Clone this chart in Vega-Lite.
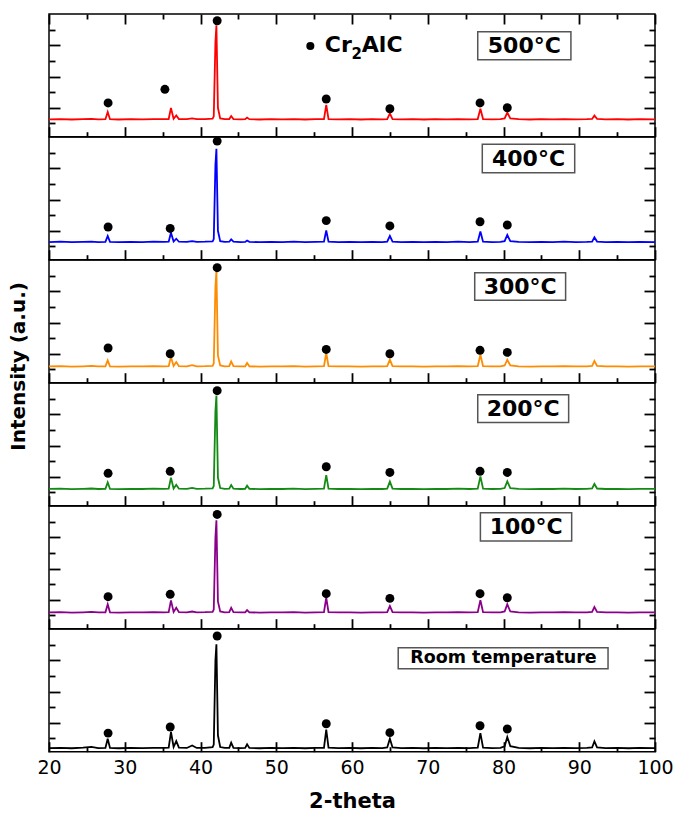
{
  "$schema": "https://vega.github.io/schema/vega-lite/v6.json",
  "background": "white",
  "padding": {"left": 9, "top": 12, "right": 5, "bottom": 5},
  "title": {"text": "Intensity (a.u.)", "orient": "left", "anchor": "middle", "font": "DejaVu Sans", "fontSize": 20, "fontWeight": "bold", "color": "black", "offset": 7, "dx": 46},
  "spacing": 0,
  "bounds": "flush",
  "datasets": {
    "xrd": [
      {"x": 20, "r": 1.26, "b": 1.28, "o": 1.19, "g": 1.22, "p": 1.19, "k": 0.38},
      {"x": 21.5, "r": 1.28, "b": 1.30, "o": 1.21, "g": 1.24, "p": 1.21, "k": 0.40},
      {"x": 23, "r": 1.25, "b": 1.27, "o": 1.18, "g": 1.21, "p": 1.18, "k": 0.37},
      {"x": 24.5, "r": 1.27, "b": 1.29, "o": 1.20, "g": 1.23, "p": 1.20, "k": 0.41},
      {"x": 25.6, "r": 1.29, "b": 1.31, "o": 1.22, "g": 1.25, "p": 1.22, "k": 0.46},
      {"x": 26.5, "r": 1.26, "b": 1.28, "o": 1.19, "g": 1.22, "p": 1.19, "k": 0.38},
      {"x": 27.45, "r": 1.27, "b": 1.29, "o": 1.20, "g": 1.23, "p": 1.20, "k": 0.39},
      {"x": 27.75, "r": 1.73, "b": 1.67, "o": 1.58, "g": 1.64, "p": 1.71, "k": 0.98},
      {"x": 28.05, "r": 1.27, "b": 1.29, "o": 1.20, "g": 1.23, "p": 1.20, "k": 0.39},
      {"x": 29.2, "r": 1.25, "b": 1.27, "o": 1.18, "g": 1.21, "p": 1.18, "k": 0.37},
      {"x": 30.8, "r": 1.27, "b": 1.29, "o": 1.20, "g": 1.23, "p": 1.20, "k": 0.39},
      {"x": 32.3, "r": 1.26, "b": 1.28, "o": 1.19, "g": 1.22, "p": 1.19, "k": 0.38},
      {"x": 33.8, "r": 1.28, "b": 1.30, "o": 1.21, "g": 1.24, "p": 1.21, "k": 0.40},
      {"x": 35.2, "r": 1.27, "b": 1.29, "o": 1.20, "g": 1.23, "p": 1.20, "k": 0.40},
      {"x": 35.8, "r": 1.28, "b": 1.30, "o": 1.21, "g": 1.24, "p": 1.21, "k": 0.41},
      {"x": 36.1, "r": 1.99, "b": 1.88, "o": 1.79, "g": 1.94, "p": 1.96, "k": 1.41},
      {"x": 36.45, "r": 1.30, "b": 1.31, "o": 1.22, "g": 1.25, "p": 1.22, "k": 0.45},
      {"x": 36.8, "r": 1.51, "b": 1.49, "o": 1.47, "g": 1.49, "p": 1.49, "k": 0.83},
      {"x": 37.15, "r": 1.28, "b": 1.30, "o": 1.21, "g": 1.24, "p": 1.21, "k": 0.41},
      {"x": 38.2, "r": 1.27, "b": 1.29, "o": 1.20, "g": 1.23, "p": 1.20, "k": 0.39},
      {"x": 38.9, "r": 1.32, "b": 1.34, "o": 1.27, "g": 1.29, "p": 1.25, "k": 0.55},
      {"x": 39.5, "r": 1.27, "b": 1.29, "o": 1.20, "g": 1.23, "p": 1.20, "k": 0.39},
      {"x": 40.6, "r": 1.28, "b": 1.30, "o": 1.21, "g": 1.24, "p": 1.21, "k": 0.40},
      {"x": 41.6, "r": 1.30, "b": 1.32, "o": 1.23, "g": 1.26, "p": 1.23, "k": 0.44},
      {"x": 41.75, "r": 1.45, "b": 1.47, "o": 1.38, "g": 1.41, "p": 1.38, "k": 0.60},
      {"x": 41.97, "r": 6.2, "b": 6.2, "o": 6.3, "g": 6.2, "p": 6.0, "k": 6.0},
      {"x": 42.1, "r": 7.27, "b": 7.25, "o": 7.29, "g": 7.19, "p": 7.08, "k": 7.02},
      {"x": 42.3, "r": 2.0, "b": 2.0, "o": 1.9, "g": 1.95, "p": 1.9, "k": 1.2},
      {"x": 42.6, "r": 1.32, "b": 1.34, "o": 1.25, "g": 1.28, "p": 1.25, "k": 0.45},
      {"x": 43.2, "r": 1.27, "b": 1.29, "o": 1.20, "g": 1.23, "p": 1.20, "k": 0.39},
      {"x": 43.8, "r": 1.28, "b": 1.30, "o": 1.21, "g": 1.24, "p": 1.21, "k": 0.40},
      {"x": 44.05, "r": 1.47, "b": 1.45, "o": 1.51, "g": 1.47, "p": 1.49, "k": 0.73},
      {"x": 44.35, "r": 1.28, "b": 1.30, "o": 1.21, "g": 1.24, "p": 1.21, "k": 0.40},
      {"x": 45.3, "r": 1.26, "b": 1.28, "o": 1.19, "g": 1.22, "p": 1.19, "k": 0.38},
      {"x": 45.9, "r": 1.27, "b": 1.29, "o": 1.20, "g": 1.23, "p": 1.20, "k": 0.39},
      {"x": 46.15, "r": 1.37, "b": 1.38, "o": 1.41, "g": 1.43, "p": 1.34, "k": 0.62},
      {"x": 46.45, "r": 1.27, "b": 1.29, "o": 1.20, "g": 1.23, "p": 1.20, "k": 0.39},
      {"x": 47.8, "r": 1.25, "b": 1.27, "o": 1.18, "g": 1.21, "p": 1.18, "k": 0.37},
      {"x": 49.3, "r": 1.27, "b": 1.29, "o": 1.20, "g": 1.23, "p": 1.20, "k": 0.39},
      {"x": 50.8, "r": 1.26, "b": 1.28, "o": 1.19, "g": 1.22, "p": 1.19, "k": 0.38},
      {"x": 52.3, "r": 1.28, "b": 1.30, "o": 1.21, "g": 1.24, "p": 1.21, "k": 0.40},
      {"x": 53.8, "r": 1.25, "b": 1.27, "o": 1.18, "g": 1.21, "p": 1.18, "k": 0.37},
      {"x": 55.2, "r": 1.27, "b": 1.29, "o": 1.20, "g": 1.23, "p": 1.20, "k": 0.39},
      {"x": 56.3, "r": 1.28, "b": 1.30, "o": 1.21, "g": 1.24, "p": 1.21, "k": 0.40},
      {"x": 56.6, "r": 2.18, "b": 2.02, "o": 2.05, "g": 2.11, "p": 2.13, "k": 1.56},
      {"x": 56.9, "r": 1.28, "b": 1.30, "o": 1.21, "g": 1.24, "p": 1.21, "k": 0.41},
      {"x": 58.2, "r": 1.26, "b": 1.28, "o": 1.19, "g": 1.22, "p": 1.19, "k": 0.38},
      {"x": 59.7, "r": 1.27, "b": 1.29, "o": 1.20, "g": 1.23, "p": 1.20, "k": 0.39},
      {"x": 61.2, "r": 1.25, "b": 1.27, "o": 1.18, "g": 1.21, "p": 1.18, "k": 0.37},
      {"x": 62.7, "r": 1.27, "b": 1.29, "o": 1.20, "g": 1.23, "p": 1.20, "k": 0.40},
      {"x": 64.0, "r": 1.26, "b": 1.28, "o": 1.19, "g": 1.22, "p": 1.19, "k": 0.38},
      {"x": 64.65, "r": 1.28, "b": 1.30, "o": 1.21, "g": 1.24, "p": 1.21, "k": 0.42},
      {"x": 65.0, "r": 1.64, "b": 1.67, "o": 1.62, "g": 1.69, "p": 1.60, "k": 0.98},
      {"x": 65.35, "r": 1.28, "b": 1.30, "o": 1.21, "g": 1.24, "p": 1.21, "k": 0.42},
      {"x": 66.5, "r": 1.26, "b": 1.28, "o": 1.19, "g": 1.22, "p": 1.19, "k": 0.38},
      {"x": 68.0, "r": 1.27, "b": 1.29, "o": 1.20, "g": 1.23, "p": 1.20, "k": 0.39},
      {"x": 69.5, "r": 1.25, "b": 1.27, "o": 1.18, "g": 1.21, "p": 1.18, "k": 0.37},
      {"x": 71.0, "r": 1.27, "b": 1.29, "o": 1.20, "g": 1.23, "p": 1.20, "k": 0.39},
      {"x": 72.5, "r": 1.26, "b": 1.28, "o": 1.19, "g": 1.22, "p": 1.19, "k": 0.38},
      {"x": 74.0, "r": 1.28, "b": 1.30, "o": 1.21, "g": 1.24, "p": 1.21, "k": 0.40},
      {"x": 75.5, "r": 1.26, "b": 1.28, "o": 1.19, "g": 1.22, "p": 1.19, "k": 0.38},
      {"x": 76.6, "r": 1.28, "b": 1.30, "o": 1.21, "g": 1.24, "p": 1.21, "k": 0.41},
      {"x": 76.95, "r": 1.94, "b": 1.96, "o": 1.94, "g": 2.03, "p": 1.98, "k": 1.34},
      {"x": 77.3, "r": 1.28, "b": 1.30, "o": 1.21, "g": 1.24, "p": 1.21, "k": 0.41},
      {"x": 78.5, "r": 1.26, "b": 1.28, "o": 1.19, "g": 1.22, "p": 1.19, "k": 0.38},
      {"x": 79.6, "r": 1.27, "b": 1.29, "o": 1.20, "g": 1.23, "p": 1.20, "k": 0.39},
      {"x": 80.15, "r": 1.32, "b": 1.34, "o": 1.25, "g": 1.28, "p": 1.25, "k": 0.50},
      {"x": 80.5, "r": 1.69, "b": 1.73, "o": 1.62, "g": 1.71, "p": 1.71, "k": 1.09},
      {"x": 80.9, "r": 1.32, "b": 1.34, "o": 1.25, "g": 1.28, "p": 1.25, "k": 0.50},
      {"x": 82.0, "r": 1.27, "b": 1.29, "o": 1.20, "g": 1.23, "p": 1.20, "k": 0.39},
      {"x": 83.5, "r": 1.25, "b": 1.27, "o": 1.18, "g": 1.21, "p": 1.18, "k": 0.37},
      {"x": 85.0, "r": 1.27, "b": 1.29, "o": 1.20, "g": 1.23, "p": 1.20, "k": 0.39},
      {"x": 86.5, "r": 1.26, "b": 1.28, "o": 1.19, "g": 1.22, "p": 1.19, "k": 0.38},
      {"x": 88.0, "r": 1.28, "b": 1.30, "o": 1.21, "g": 1.24, "p": 1.21, "k": 0.40},
      {"x": 89.5, "r": 1.26, "b": 1.28, "o": 1.19, "g": 1.22, "p": 1.19, "k": 0.38},
      {"x": 91.0, "r": 1.27, "b": 1.29, "o": 1.20, "g": 1.23, "p": 1.20, "k": 0.39},
      {"x": 91.7, "r": 1.29, "b": 1.31, "o": 1.22, "g": 1.25, "p": 1.22, "k": 0.42},
      {"x": 92.0, "r": 1.51, "b": 1.58, "o": 1.54, "g": 1.54, "p": 1.54, "k": 0.81},
      {"x": 92.35, "r": 1.29, "b": 1.31, "o": 1.22, "g": 1.25, "p": 1.22, "k": 0.42},
      {"x": 93.5, "r": 1.26, "b": 1.28, "o": 1.19, "g": 1.22, "p": 1.19, "k": 0.38},
      {"x": 95.0, "r": 1.27, "b": 1.29, "o": 1.20, "g": 1.23, "p": 1.20, "k": 0.39},
      {"x": 96.5, "r": 1.25, "b": 1.27, "o": 1.18, "g": 1.21, "p": 1.18, "k": 0.37},
      {"x": 98.0, "r": 1.27, "b": 1.29, "o": 1.20, "g": 1.23, "p": 1.20, "k": 0.39},
      {"x": 100, "r": 1.26, "b": 1.28, "o": 1.19, "g": 1.22, "p": 1.19, "k": 0.38}
    ],
    "dots": [
      {"x": 27.8, "r": 2.31, "b": 2.24, "o": 2.37, "g": 2.22, "p": 2.20, "k": 1.34},
      {"x": 35.3, "r": 3.18, "b": null, "o": null, "g": null, "p": null, "k": null},
      {"x": 36.0, "r": null, "b": 2.15, "o": 2.00, "g": 2.35, "p": 2.35, "k": 1.73},
      {"x": 42.2, "r": 7.57, "b": 7.74, "o": 7.51, "g": 7.51, "p": 7.46, "k": 7.55},
      {"x": 56.6, "r": 2.56, "b": 2.65, "o": 2.28, "g": 2.64, "p": 2.39, "k": 1.94},
      {"x": 65.0, "r": 1.94, "b": 2.31, "o": 2.00, "g": 2.28, "p": 2.09, "k": 1.37},
      {"x": 76.9, "r": 2.31, "b": 2.58, "o": 2.22, "g": 2.35, "p": 2.39, "k": 1.81},
      {"x": 80.5, "r": 2.00, "b": 2.37, "o": 2.09, "g": 2.28, "p": 2.13, "k": 1.60}
    ]
  },
  "vconcat": [
    {
      "width": 606, "height": 122.7,
      "layer": [
        {"data": {"name": "xrd"}, "mark": {"type": "line", "color": "#ff0000", "strokeWidth": 1.8},
         "encoding": {
           "x": {"field": "x", "type": "quantitative", "scale": {"domain": [20, 100], "nice": false},
                 "axis": {"orient": "bottom", "values": [20,25,30,35,40,45,50,55,60,65,70,75,80,85,90,95,100], "tickSize": {"condition": {"test": "datum.value % 10 === 0", "value": -10}, "value": -5}, "tickColor": "black", "tickWidth": 1.8, "labels": false, "domain": false, "grid": false, "title": null}},
           "y": {"field": "r", "type": "quantitative", "scale": {"domain": [0.15, 8], "nice": false, "zero": false},
                 "axis": {"orient": "left", "values": [1,2,3,4,5,6,7], "tickSize": {"condition": {"test": "datum.value % 2 === 0", "value": -11}, "value": -6}, "tickColor": "black", "tickWidth": 1.8, "labels": false, "domain": false, "grid": false, "title": null}}}},
        {"data": {"name": "dots"}, "mark": {"type": "point", "filled": true, "color": "black", "size": 80, "opacity": 1},
         "encoding": {
           "x": {"field": "x", "type": "quantitative", "axis": {"orient": "top", "values": [20,25,30,35,40,45,50,55,60,65,70,75,80,85,90,95,100], "tickSize": {"condition": {"test": "datum.value % 10 === 0", "value": -10}, "value": -5}, "tickColor": "black", "tickWidth": 1.8, "labels": false, "domain": false, "grid": false, "title": null}},
           "y": {"field": "r", "type": "quantitative", "axis": {"orient": "right", "values": [1,2,3,4,5,6,7], "tickSize": {"condition": {"test": "datum.value % 2 === 0", "value": -11}, "value": -6}, "tickColor": "black", "tickWidth": 1.8, "labels": false, "domain": false, "grid": false, "title": null}}}},
        {"data": {"values": [{}]}, "mark": {"type": "point", "filled": true, "color": "black", "size": 65, "opacity": 1},
         "encoding": {"x": {"datum": 54.5, "type": "quantitative", "axis": null}, "y": {"datum": 5.95, "type": "quantitative", "axis": null}}},
        {"data": {"values": [{}]}, "mark": {"type": "text", "text": "Cr", "align": "left", "baseline": "middle", "font": "DejaVu Sans", "fontSize": 22, "fontWeight": "bold", "color": "black"},
         "encoding": {"x": {"datum": 56.4, "type": "quantitative", "axis": null}, "y": {"datum": 6.0, "type": "quantitative", "axis": null}}},
        {"data": {"values": [{}]}, "mark": {"type": "text", "text": "2", "align": "left", "baseline": "middle", "font": "DejaVu Sans", "fontSize": 15, "fontWeight": "bold", "color": "black"},
         "encoding": {"x": {"datum": 59.95, "type": "quantitative", "axis": null}, "y": {"datum": 5.47, "type": "quantitative", "axis": null}}},
        {"data": {"values": [{}]}, "mark": {"type": "text", "text": "AlC", "align": "left", "baseline": "middle", "font": "DejaVu Sans", "fontSize": 22, "fontWeight": "bold", "color": "black"},
         "encoding": {"x": {"datum": 61.3, "type": "quantitative", "axis": null}, "y": {"datum": 6.0, "type": "quantitative", "axis": null}}},
        {"data": {"values": [{}]}, "mark": {"type": "rect", "fill": null, "fillOpacity": 0, "stroke": "#555555", "strokeWidth": 1.5},
         "encoding": {"x": {"datum": 76.6, "type": "quantitative", "axis": null}, "x2": {"datum": 88.9}, "y": {"datum": 6.87, "type": "quantitative", "axis": null}, "y2": {"datum": 5.08}}},
        {"data": {"values": [{}]}, "mark": {"type": "text", "text": "500°C", "align": "center", "baseline": "middle", "font": "DejaVu Sans", "fontSize": 22, "fontWeight": "bold", "color": "black"},
         "encoding": {"x": {"datum": 82.75, "type": "quantitative", "axis": null}, "y": {"datum": 5.97, "type": "quantitative", "axis": null}}}
      ],
      "resolve": {"axis": {"x": "independent", "y": "independent"}}
    },
    {
      "width": 606, "height": 122.7,
      "layer": [
        {"data": {"name": "xrd"}, "mark": {"type": "line", "color": "#0000ff", "strokeWidth": 1.8},
         "encoding": {
           "x": {"field": "x", "type": "quantitative", "scale": {"domain": [20, 100], "nice": false},
                 "axis": {"orient": "bottom", "values": [20,25,30,35,40,45,50,55,60,65,70,75,80,85,90,95,100], "tickSize": {"condition": {"test": "datum.value % 10 === 0", "value": -10}, "value": -5}, "tickColor": "black", "tickWidth": 1.8, "labels": false, "domain": false, "grid": false, "title": null}},
           "y": {"field": "b", "type": "quantitative", "scale": {"domain": [0.15, 8], "nice": false, "zero": false},
                 "axis": {"orient": "left", "values": [1,2,3,4,5,6,7], "tickSize": {"condition": {"test": "datum.value % 2 === 0", "value": -11}, "value": -6}, "tickColor": "black", "tickWidth": 1.8, "labels": false, "domain": false, "grid": false, "title": null}}}},
        {"data": {"name": "dots"}, "mark": {"type": "point", "filled": true, "color": "black", "size": 80, "opacity": 1},
         "encoding": {
           "x": {"field": "x", "type": "quantitative", "axis": null},
           "y": {"field": "b", "type": "quantitative", "axis": {"orient": "right", "values": [1,2,3,4,5,6,7], "tickSize": {"condition": {"test": "datum.value % 2 === 0", "value": -11}, "value": -6}, "tickColor": "black", "tickWidth": 1.8, "labels": false, "domain": false, "grid": false, "title": null}}}},
        {"data": {"values": [{}]}, "mark": {"type": "rect", "fill": null, "fillOpacity": 0, "stroke": "#555555", "strokeWidth": 1.5},
         "encoding": {"x": {"datum": 77.2, "type": "quantitative", "axis": null}, "x2": {"datum": 89.4}, "y": {"datum": 7.53, "type": "quantitative", "axis": null}, "y2": {"datum": 5.72}}},
        {"data": {"values": [{}]}, "mark": {"type": "text", "text": "400°C", "align": "center", "baseline": "middle", "font": "DejaVu Sans", "fontSize": 22, "fontWeight": "bold", "color": "black"},
         "encoding": {"x": {"datum": 83.3, "type": "quantitative", "axis": null}, "y": {"datum": 6.62, "type": "quantitative", "axis": null}}}
      ],
      "resolve": {"axis": {"x": "independent", "y": "independent"}}
    },
    {
      "width": 606, "height": 122.7,
      "layer": [
        {"data": {"name": "xrd"}, "mark": {"type": "line", "color": "#ff8c00", "strokeWidth": 1.8},
         "encoding": {
           "x": {"field": "x", "type": "quantitative", "scale": {"domain": [20, 100], "nice": false},
                 "axis": {"orient": "bottom", "values": [20,25,30,35,40,45,50,55,60,65,70,75,80,85,90,95,100], "tickSize": {"condition": {"test": "datum.value % 10 === 0", "value": -10}, "value": -5}, "tickColor": "black", "tickWidth": 1.8, "labels": false, "domain": false, "grid": false, "title": null}},
           "y": {"field": "o", "type": "quantitative", "scale": {"domain": [0.15, 8], "nice": false, "zero": false},
                 "axis": {"orient": "left", "values": [1,2,3,4,5,6,7], "tickSize": {"condition": {"test": "datum.value % 2 === 0", "value": -11}, "value": -6}, "tickColor": "black", "tickWidth": 1.8, "labels": false, "domain": false, "grid": false, "title": null}}}},
        {"data": {"name": "dots"}, "mark": {"type": "point", "filled": true, "color": "black", "size": 80, "opacity": 1},
         "encoding": {
           "x": {"field": "x", "type": "quantitative", "axis": null},
           "y": {"field": "o", "type": "quantitative", "axis": {"orient": "right", "values": [1,2,3,4,5,6,7], "tickSize": {"condition": {"test": "datum.value % 2 === 0", "value": -11}, "value": -6}, "tickColor": "black", "tickWidth": 1.8, "labels": false, "domain": false, "grid": false, "title": null}}}},
        {"data": {"values": [{}]}, "mark": {"type": "rect", "fill": null, "fillOpacity": 0, "stroke": "#555555", "strokeWidth": 1.5},
         "encoding": {"x": {"datum": 76.2, "type": "quantitative", "axis": null}, "x2": {"datum": 88.2}, "y": {"datum": 7.19, "type": "quantitative", "axis": null}, "y2": {"datum": 5.42}}},
        {"data": {"values": [{}]}, "mark": {"type": "text", "text": "300°C", "align": "center", "baseline": "middle", "font": "DejaVu Sans", "fontSize": 22, "fontWeight": "bold", "color": "black"},
         "encoding": {"x": {"datum": 82.2, "type": "quantitative", "axis": null}, "y": {"datum": 6.3, "type": "quantitative", "axis": null}}}
      ],
      "resolve": {"axis": {"x": "independent", "y": "independent"}}
    },
    {
      "width": 606, "height": 122.7,
      "layer": [
        {"data": {"name": "xrd"}, "mark": {"type": "line", "color": "#138a13", "strokeWidth": 1.8},
         "encoding": {
           "x": {"field": "x", "type": "quantitative", "scale": {"domain": [20, 100], "nice": false},
                 "axis": {"orient": "bottom", "values": [20,25,30,35,40,45,50,55,60,65,70,75,80,85,90,95,100], "tickSize": {"condition": {"test": "datum.value % 10 === 0", "value": -10}, "value": -5}, "tickColor": "black", "tickWidth": 1.8, "labels": false, "domain": false, "grid": false, "title": null}},
           "y": {"field": "g", "type": "quantitative", "scale": {"domain": [0.15, 8], "nice": false, "zero": false},
                 "axis": {"orient": "left", "values": [1,2,3,4,5,6,7], "tickSize": {"condition": {"test": "datum.value % 2 === 0", "value": -11}, "value": -6}, "tickColor": "black", "tickWidth": 1.8, "labels": false, "domain": false, "grid": false, "title": null}}}},
        {"data": {"name": "dots"}, "mark": {"type": "point", "filled": true, "color": "black", "size": 80, "opacity": 1},
         "encoding": {
           "x": {"field": "x", "type": "quantitative", "axis": null},
           "y": {"field": "g", "type": "quantitative", "axis": {"orient": "right", "values": [1,2,3,4,5,6,7], "tickSize": {"condition": {"test": "datum.value % 2 === 0", "value": -11}, "value": -6}, "tickColor": "black", "tickWidth": 1.8, "labels": false, "domain": false, "grid": false, "title": null}}}},
        {"data": {"values": [{}]}, "mark": {"type": "rect", "fill": null, "fillOpacity": 0, "stroke": "#555555", "strokeWidth": 1.5},
         "encoding": {"x": {"datum": 76.6, "type": "quantitative", "axis": null}, "x2": {"datum": 88.6}, "y": {"datum": 7.25, "type": "quantitative", "axis": null}, "y2": {"datum": 5.48}}},
        {"data": {"values": [{}]}, "mark": {"type": "text", "text": "200°C", "align": "center", "baseline": "middle", "font": "DejaVu Sans", "fontSize": 22, "fontWeight": "bold", "color": "black"},
         "encoding": {"x": {"datum": 82.6, "type": "quantitative", "axis": null}, "y": {"datum": 6.36, "type": "quantitative", "axis": null}}}
      ],
      "resolve": {"axis": {"x": "independent", "y": "independent"}}
    },
    {
      "width": 606, "height": 122.7,
      "layer": [
        {"data": {"name": "xrd"}, "mark": {"type": "line", "color": "#8b008b", "strokeWidth": 1.8},
         "encoding": {
           "x": {"field": "x", "type": "quantitative", "scale": {"domain": [20, 100], "nice": false},
                 "axis": {"orient": "bottom", "values": [20,25,30,35,40,45,50,55,60,65,70,75,80,85,90,95,100], "tickSize": {"condition": {"test": "datum.value % 10 === 0", "value": -10}, "value": -5}, "tickColor": "black", "tickWidth": 1.8, "labels": false, "domain": false, "grid": false, "title": null}},
           "y": {"field": "p", "type": "quantitative", "scale": {"domain": [0.15, 8], "nice": false, "zero": false},
                 "axis": {"orient": "left", "values": [1,2,3,4,5,6,7], "tickSize": {"condition": {"test": "datum.value % 2 === 0", "value": -11}, "value": -6}, "tickColor": "black", "tickWidth": 1.8, "labels": false, "domain": false, "grid": false, "title": null}}}},
        {"data": {"name": "dots"}, "mark": {"type": "point", "filled": true, "color": "black", "size": 80, "opacity": 1},
         "encoding": {
           "x": {"field": "x", "type": "quantitative", "axis": null},
           "y": {"field": "p", "type": "quantitative", "axis": {"orient": "right", "values": [1,2,3,4,5,6,7], "tickSize": {"condition": {"test": "datum.value % 2 === 0", "value": -11}, "value": -6}, "tickColor": "black", "tickWidth": 1.8, "labels": false, "domain": false, "grid": false, "title": null}}}},
        {"data": {"values": [{}]}, "mark": {"type": "rect", "fill": null, "fillOpacity": 0, "stroke": "#555555", "strokeWidth": 1.5},
         "encoding": {"x": {"datum": 76.95, "type": "quantitative", "axis": null}, "x2": {"datum": 89.0}, "y": {"datum": 7.57, "type": "quantitative", "axis": null}, "y2": {"datum": 5.76}}},
        {"data": {"values": [{}]}, "mark": {"type": "text", "text": "100°C", "align": "center", "baseline": "middle", "font": "DejaVu Sans", "fontSize": 22, "fontWeight": "bold", "color": "black"},
         "encoding": {"x": {"datum": 83.0, "type": "quantitative", "axis": null}, "y": {"datum": 6.66, "type": "quantitative", "axis": null}}}
      ],
      "resolve": {"axis": {"x": "independent", "y": "independent"}}
    },
    {
      "width": 606, "height": 122.7,
      "layer": [
        {"data": {"name": "xrd"}, "mark": {"type": "line", "color": "#000000", "strokeWidth": 1.8},
         "encoding": {
           "x": {"field": "x", "type": "quantitative", "scale": {"domain": [20, 100], "nice": false},
                 "axis": {"orient": "bottom", "values": [20,25,30,35,40,45,50,55,60,65,70,75,80,85,90,95,100], "tickSize": {"condition": {"test": "datum.value % 10 === 0", "value": -10}, "value": -5}, "tickColor": "black", "tickWidth": 1.8, "labels": true, "labelExpr": "datum.value % 10 === 0 ? datum.label : ''", "labelFont": "DejaVu Sans", "labelFontSize": 19, "labelColor": "black", "labelPadding": 17, "labelFlush": false, "labelOverlap": false, "labelBound": false, "domain": false, "grid": false, "title": "2-theta", "titleFont": "DejaVu Sans", "titleFontSize": 21, "titleFontWeight": "bold", "titleColor": "black", "titlePadding": 8}},
           "y": {"field": "k", "type": "quantitative", "scale": {"domain": [0.15, 8], "nice": false, "zero": false},
                 "axis": {"orient": "left", "values": [1,2,3,4,5,6,7], "tickSize": {"condition": {"test": "datum.value % 2 === 0", "value": -11}, "value": -6}, "tickColor": "black", "tickWidth": 1.8, "labels": false, "domain": false, "grid": false, "title": null}}}},
        {"data": {"name": "dots"}, "mark": {"type": "point", "filled": true, "color": "black", "size": 80, "opacity": 1},
         "encoding": {
           "x": {"field": "x", "type": "quantitative", "axis": null},
           "y": {"field": "k", "type": "quantitative", "axis": {"orient": "right", "values": [1,2,3,4,5,6,7], "tickSize": {"condition": {"test": "datum.value % 2 === 0", "value": -11}, "value": -6}, "tickColor": "black", "tickWidth": 1.8, "labels": false, "domain": false, "grid": false, "title": null}}}},
        {"data": {"values": [{}]}, "mark": {"type": "rect", "fill": null, "fillOpacity": 0, "stroke": "#555555", "strokeWidth": 1.5},
         "encoding": {"x": {"datum": 66.1, "type": "quantitative", "axis": null}, "x2": {"datum": 93.8}, "y": {"datum": 6.8, "type": "quantitative", "axis": null}, "y2": {"datum": 5.46}}},
        {"data": {"values": [{}]}, "mark": {"type": "text", "text": "Room temperature", "align": "center", "baseline": "middle", "font": "DejaVu Sans", "fontSize": 17.5, "fontWeight": "bold", "color": "black"},
         "encoding": {"x": {"datum": 80.0, "type": "quantitative", "axis": null}, "y": {"datum": 6.13, "type": "quantitative", "axis": null}}}
      ],
      "resolve": {"axis": {"x": "independent", "y": "independent"}}
    }
  ],
  "config": {
    "view": {"stroke": "black", "strokeWidth": 1.5},
    "font": "DejaVu Sans"
  }
}
